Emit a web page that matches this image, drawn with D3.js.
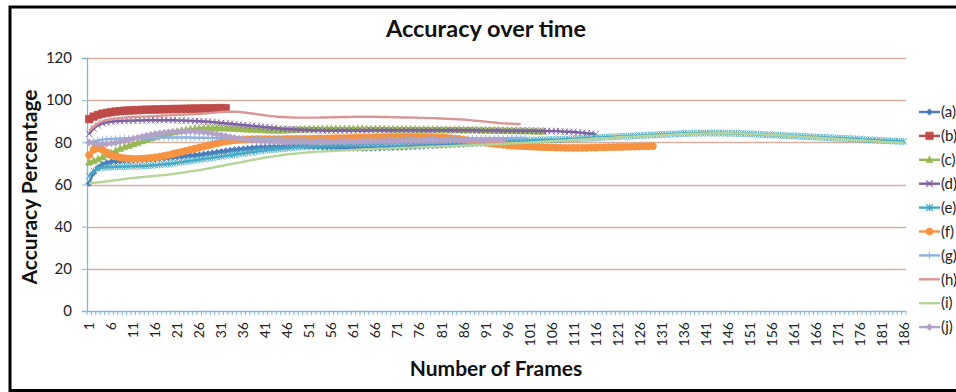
<!DOCTYPE html>
<html>
<head>
<meta charset="utf-8">
<script src="https://cdn.jsdelivr.net/npm/d3@7"></script>
<style>
  html, body { margin: 0; padding: 0; background: #fff; }
  svg { display: block; font-family: Lato, "Open Sans", sans-serif; }
</style>
</head>
<body>
<svg id="chart" width="956" height="392"></svg>
<script>
// Frame numbers on the category axis
const categories = d3.range(1, 187);
const xTickLabels = d3.range(1, 187, 5);
const yTicks = [0, 20, 40, 60, 80, 100, 120];

const seriesNames = ["(a)", "(b)", "(c)", "(d)", "(e)", "(f)", "(g)", "(h)", "(i)", "(j)"];

// Accuracy (%) per frame for each run
const seriesA = [60.5,65.5,68,69.5,70.3,70.8,71,71.2,71.3,71.4,
  71.5,71.6,71.7,71.8,72,72.1,72.3,72.5,72.7,72.9,
  73.1,73.3,73.5,73.7,73.9,74.1,74.4,74.7,75,75.3,
  75.6,75.9,76.2,76.5,76.7,76.9,77.1,77.3,77.5,77.6,
  77.7,77.8,77.9,78,78.1,78.2,78.3,78.3,78.3,78.2,
  78.1,78,77.9,77.8,77.7,77.6,77.5,77.4,77.3,77.3,
  77.2,77.2,77.2,77.2,77.2,77.3,77.3,77.4,77.5,77.5,
  77.6,77.7,77.8,77.9,78,78.1,78.2,78.3,78.4,78.5,
  78.6,78.7,78.8,78.9,79,79.1,79.2,79.3,79.4,79.5,
  79.6,79.7,79.8,79.9,80,80,80.1,80.1,80.2,80.2];

const seriesB = [91,92.2,93,93.6,94,94.3,94.6,94.8,95,95.1,
  95.2,95.3,95.4,95.5,95.5,95.6,95.6,95.7,95.7,95.8,
  95.8,95.9,95.9,96,96,96,96.1,96.1,96.1,96.2,96.2,96.2];

const seriesC = [70.5,71.2,72,73,74,75,76,77,77.8,78.5,
  79.2,79.9,80.6,81.3,82,82.6,83.2,83.8,84.3,84.8,
  85.2,85.6,85.9,86.2,86.4,86.6,86.7,86.8,86.8,86.8,
  86.8,86.7,86.6,86.5,86.4,86.3,86.2,86.1,86,85.9,
  85.8,85.7,85.7,85.7,85.7,85.8,85.9,86,86.1,86.2,
  86.3,86.3,86.4,86.4,86.4,86.4,86.4,86.4,86.4,86.4,
  86.4,86.4,86.3,86.3,86.3,86.3,86.3,86.3,86.2,86.2,
  86.2,86.2,86.2,86.2,86.2,86.1,86.1,86.1,86.1,86.1,
  86,86,86,86,86,85.9,85.9,85.9,85.9,85.8,
  85.8,85.8,85.7,85.7,85.6,85.6,85.5,85.5,85.4,85.4,
  85.3,85.3,85.2,85.2];

const seriesD = [84,86.5,88,89,89.5,89.8,90,90.1,90.2,90.3,
  90.3,90.4,90.4,90.5,90.5,90.5,90.5,90.5,90.5,90.5,
  90.4,90.4,90.3,90.2,90.1,90,89.9,89.8,89.6,89.4,
  89.2,89,88.8,88.6,88.4,88.2,88,87.8,87.6,87.4,
  87.2,87,86.8,86.6,86.4,86.3,86.2,86.1,86,85.9,
  85.8,85.7,85.7,85.6,85.6,85.6,85.6,85.6,85.6,85.6,
  85.6,85.6,85.6,85.6,85.7,85.7,85.7,85.7,85.7,85.7,
  85.7,85.7,85.7,85.7,85.7,85.7,85.7,85.7,85.7,85.7,
  85.7,85.7,85.7,85.7,85.7,85.7,85.7,85.7,85.6,85.6,
  85.6,85.6,85.6,85.6,85.5,85.5,85.5,85.5,85.5,85.5,
  85.5,85.5,85.4,85.4,85.4,85.3,85.3,85.2,85.1,85,
  84.9,84.7,84.5,84.3,84.1,83.9];

const seriesE = [64,66.5,67.5,68,68.2,68.3,68.4,68.5,68.5,68.6,
  68.6,68.7,68.8,68.9,69,69.2,69.4,69.6,69.8,70,
  70.3,70.6,70.9,71.2,71.5,71.8,72.1,72.4,72.7,73,
  73.3,73.6,73.9,74.2,74.5,74.8,75.1,75.4,75.7,76,
  76.2,76.4,76.6,76.8,77,77.2,77.4,77.6,77.8,78,
  78.1,78.2,78.3,78.4,78.5,78.6,78.7,78.8,78.9,79,
  79,79.1,79.1,79.2,79.2,79.3,79.3,79.4,79.4,79.5,
  79.5,79.6,79.6,79.7,79.7,79.8,79.8,79.9,79.9,80,
  80,80.1,80.1,80.2,80.2,80.3,80.3,80.4,80.4,80.5,
  80.5,80.6,80.6,80.7,80.7,80.8,80.8,80.9,80.9,81,
  81,81.1,81.1,81.2,81.2,81.3,81.3,81.4,81.5,81.6,
  81.7,81.8,81.9,82,82.1,82.2,82.3,82.4,82.5,82.6,
  82.7,82.8,82.9,83,83.1,83.2,83.3,83.4,83.5,83.6,
  83.7,83.8,83.9,84,84.1,84.2,84.2,84.3,84.3,84.4,
  84.4,84.4,84.4,84.4,84.4,84.3,84.3,84.2,84.2,84.1,
  84,83.9,83.8,83.7,83.6,83.5,83.4,83.3,83.2,83.1,
  83,82.9,82.8,82.7,82.6,82.5,82.4,82.3,82.2,82.1,
  82,81.9,81.8,81.7,81.6,81.5,81.3,81.2,81.1,81,
  80.9,80.8,80.7,80.6,80.5,80.4];

const seriesF = [74,76.5,77.2,76.5,75.2,74,73.3,72.8,72.5,72.3,
  72.2,72.2,72.3,72.4,72.6,72.9,73.2,73.6,74,74.5,
  75,75.5,76,76.5,77,77.5,78,78.5,79,79.5,
  80,80.4,80.7,81,81.2,81.3,81.4,81.5,81.5,81.5,
  81.5,81.5,81.5,81.5,81.5,81.6,81.6,81.6,81.7,81.7,
  81.7,81.8,81.8,81.8,81.9,81.9,82,82,82,82.1,
  82.1,82.2,82.2,82.3,82.3,82.4,82.4,82.5,82.5,82.5,
  82.6,82.6,82.6,82.6,82.6,82.6,82.6,82.5,82.5,82.4,
  82.3,82.2,82,81.8,81.6,81.3,81,80.7,80.4,80.1,
  79.8,79.5,79.2,79,78.8,78.6,78.4,78.3,78.2,78.1,
  78,77.9,77.8,77.7,77.6,77.6,77.5,77.5,77.4,77.4,
  77.4,77.4,77.4,77.4,77.5,77.5,77.6,77.6,77.7,77.7,
  77.8,77.8,77.9,77.9,78,78,78.1,78.1,78.2];

const seriesG = [79.5,80.5,81,81.3,81.5,81.6,81.7,81.8,81.9,82,
  82,82.1,82.1,82.2,82.2,82.2,82.3,82.3,82.3,82.3,
  82.3,82.3,82.3,82.3,82.2,82.2,82.2,82.1,82.1,82,
  82,81.9,81.9,81.8,81.8,81.7,81.7,81.6,81.6,81.5,
  81.5,81.4,81.4,81.3,81.3,81.2,81.2,81.2,81.1,81.1,
  81.1,81.1,81,81,81,81,81,81,81,81,
  81,81,81,81,81.1,81.1,81.1,81.1,81.2,81.2,
  81.2,81.3,81.3,81.3,81.4,81.4,81.4,81.5,81.5,81.5,
  81.6,81.6,81.6,81.7,81.7,81.7,81.8,81.8,81.8,81.9,
  81.9,81.9,82,82,82,82,82.1,82.1,82.1,82.1];

const seriesH = [85.5,87.5,89,90,90.6,91,91.3,91.5,91.7,91.9,
  92,92.1,92.2,92.3,92.4,92.5,92.6,92.7,92.8,92.9,
  93,93.1,93.2,93.3,93.4,93.5,93.6,93.8,94,94.2,
  94.4,94.5,94.5,94.5,94.4,94.2,94,93.7,93.4,93.1,
  92.8,92.5,92.3,92.1,92,91.9,91.8,91.7,91.7,91.7,
  91.7,91.7,91.7,91.8,91.8,91.9,91.9,92,92,92,
  92.1,92.1,92.1,92.1,92.1,92.1,92,92,92,91.9,
  91.9,91.8,91.8,91.7,91.7,91.6,91.6,91.5,91.5,91.4,
  91.3,91.2,91.1,91,90.9,90.8,90.6,90.4,90.2,90,
  89.8,89.6,89.4,89.2,89,88.9,88.8,88.7,88.6];

const seriesI = [60.5,60.8,61,61.2,61.5,61.8,62,62.3,62.6,62.9,
  63.1,63.3,63.5,63.7,63.9,64.1,64.3,64.5,64.7,65,
  65.3,65.6,65.9,66.2,66.5,66.8,67.2,67.6,68,68.4,
  68.8,69.2,69.6,70,70.4,70.8,71.2,71.6,72,72.4,
  72.8,73.1,73.4,73.7,74,74.3,74.5,74.7,74.9,75.1,
  75.3,75.5,75.6,75.7,75.8,75.9,76,76.1,76.2,76.3,
  76.4,76.5,76.6,76.7,76.8,76.9,77,77,77.1,77.2,
  77.3,77.4,77.5,77.5,77.6,77.7,77.8,77.9,77.9,78,
  78.1,78.2,78.2,78.3,78.4,78.5,78.5,78.6,78.7,78.8,
  78.9,79,79.1,79.2,79.3,79.4,79.5,79.6,79.7,79.8,
  79.9,80,80.1,80.3,80.4,80.5,80.7,80.8,80.9,81,
  81.2,81.3,81.4,81.5,81.7,81.8,81.9,82,82.1,82.2,
  82.4,82.5,82.6,82.7,82.8,82.9,83,83.1,83.2,83.3,
  83.4,83.5,83.6,83.7,83.8,83.9,84,84.1,84.1,84.2,
  84.2,84.3,84.3,84.3,84.3,84.3,84.3,84.2,84.2,84.1,
  84,83.9,83.8,83.7,83.6,83.5,83.4,83.3,83.2,83,
  82.9,82.8,82.6,82.5,82.4,82.3,82.1,82,81.9,81.8,
  81.6,81.5,81.4,81.2,81.1,81,80.9,80.7,80.6,80.5,
  80.3,80.2,80.1,80,79.9,79.8];

const seriesJ = [80,79.5,79.2,79.2,79.3,79.5,79.8,80.2,80.7,81.2,
  81.7,82.2,82.7,83.2,83.6,84,84.3,84.6,84.8,85,
  85.1,85.2,85.2,85.2,85.1,85,84.8,84.5,84.2,83.8,
  83.4,83,82.6,82.2,81.8,81.5,81.2,81,80.8,80.6,
  80.5,80.4,80.3,80.2,80.2,80.1,80.1,80.1,80.1,80.1,
  80.1,80.1,80.1,80.1,80.1,80.2,80.2,80.2,80.2,80.3,
  80.3,80.3,80.3,80.4,80.4,80.4,80.4,80.5,80.5,80.5,
  80.5,80.6,80.6,80.6,80.6,80.7,80.7,80.7,80.7,80.8,
  80.8,80.8,80.8,80.9,80.9,80.9,80.9,81,81,81,
  81,81.1,81.1,81.1,81.1];

const seriesValues = [seriesA, seriesB, seriesC, seriesD, seriesE, seriesF, seriesG, seriesH, seriesI, seriesJ];
const seriesColors = ["#4a7ebb", "#be4b48", "#98b954", "#7d60a0", "#46aac5", "#f69240", "#8db3e2", "#d99694", "#b5d49a", "#b3a2c7"];
const seriesMarkers = ["diamond", "square", "triangle", "times", "star", "circle", "plus", "none", "none", "diamond"];

const W = 956, H = 392;
const plot = { left: 87, right: 906, top: 58, bottom: 311 };

const svg = d3.select("#chart");
svg.append("rect").attr("width", W).attr("height", H).attr("fill", "#fff");

const x = d3.scaleBand().domain(categories).range([plot.left, plot.right]).padding(0);
const y = d3.scaleLinear().domain([0, 120]).range([plot.bottom, plot.top]);
const cx = c => x(c) + x.bandwidth() / 2;

// Horizontal gridlines
svg.append("g").selectAll("line")
  .data(yTicks.filter(v => v > 0))
  .join("line")
  .attr("x1", plot.left).attr("x2", plot.right)
  .attr("y1", d => Math.round(y(d)) + 0.5).attr("y2", d => Math.round(y(d)) + 0.5)
  .attr("stroke", "#d8b0a2").attr("stroke-width", 1.3);

// Y axis
const yAxis = svg.append("g")
  .attr("transform", `translate(${plot.left},0)`)
  .call(d3.axisLeft(y).tickValues(yTicks).tickSize(5).tickPadding(10));
yAxis.select(".domain").attr("stroke", "#86b6d2").attr("stroke-width", 1.3);
yAxis.selectAll(".tick line").attr("stroke", "#86b6d2");
yAxis.selectAll("text").attr("font-size", 15).attr("fill", "#222").attr("font-family", "Lato, sans-serif");

// X axis: line, a tick at every category boundary, labels every fifth frame
const xAxis = svg.append("g")
  .attr("transform", `translate(0,${plot.bottom})`)
  .call(d3.axisBottom(x).tickValues(xTickLabels).tickSize(0));
xAxis.select(".domain").remove();
xAxis.selectAll("text")
  .attr("font-size", 14).attr("fill", "#222").attr("font-family", "Lato, sans-serif")
  .attr("transform", "rotate(-90)")
  .attr("x", -11).attr("y", 0).attr("dy", "0.36em")
  .style("text-anchor", "end");

svg.append("line")
  .attr("x1", plot.left).attr("x2", plot.right)
  .attr("y1", plot.bottom + 0.5).attr("y2", plot.bottom + 0.5)
  .attr("stroke", "#86b6d2").attr("stroke-width", 1.3);
svg.append("g").selectAll("line")
  .data(categories.concat([null]))
  .join("line")
  .attr("x1", d => d === null ? plot.right : x(d))
  .attr("x2", d => d === null ? plot.right : x(d))
  .attr("y1", plot.bottom).attr("y2", plot.bottom + 4)
  .attr("stroke", "#86b6d2").attr("stroke-width", 1);

// Marker shapes
function markerPath(type, s) {
  switch (type) {
    case "diamond": return `M0,${-s}L${s},0L0,${s}L${-s},0Z`;
    case "square": return `M${-s},${-s}H${s}V${s}H${-s}Z`;
    case "triangle": return `M0,${-s * 1.1}L${s},${s * 0.8}L${-s},${s * 0.8}Z`;
    case "circle": return d3.symbol(d3.symbolCircle, Math.PI * s * s)();
    case "times": return `M${-s},${-s}L${s},${s}M${-s},${s}L${s},${-s}`;
    case "plus": return `M${-s},0H${s}M0,${-s}V${s}`;
    case "star": return `M${-s},${-s}L${s},${s}M${-s},${s}L${s},${-s}M0,${-s}V${s}`;
    default: return "";
  }
}
const markerSize = { diamond: 3.2, square: 3.8, triangle: 3.6, circle: 3.6, times: 3.2, plus: 3.4, star: 3.4 };
const strokeOnly = new Set(["times", "plus", "star"]);

const line = d3.line().x(d => cx(d.cat)).y(d => y(d.v)).curve(d3.curveMonotoneX);

seriesValues.forEach((vals, i) => {
  const pts = vals.map((v, k) => ({ cat: categories[k], v }));
  const g = svg.append("g");
  const color = seriesColors[i];
  const m = seriesMarkers[i];
  g.append("path").datum(pts)
    .attr("d", line)
    .attr("fill", "none").attr("stroke", color)
    .attr("stroke-width", 2.4).attr("stroke-linejoin", "round");
  if (m !== "none") {
    const s = i === 9 ? 3.4 : markerSize[m];
    g.selectAll("path.mk").data(pts).join("path")
      .attr("class", "mk")
      .attr("transform", d => `translate(${cx(d.cat)},${y(d.v)})`)
      .attr("d", markerPath(m, s))
      .attr("fill", strokeOnly.has(m) ? "none" : color)
      .attr("stroke", color)
      .attr("stroke-width", strokeOnly.has(m) ? 1 : 0.6)
      .attr("opacity", strokeOnly.has(m) ? 0.9 : 1);
  }
});

// Legend
const legend = svg.append("g");
seriesNames.forEach((name, i) => {
  const ly = 112 + i * 23.9;
  const color = seriesColors[i];
  const m = seriesMarkers[i];
  legend.append("line")
    .attr("x1", 919).attr("x2", 940).attr("y1", ly).attr("y2", ly)
    .attr("stroke", color).attr("stroke-width", 2.4);
  if (m !== "none") {
    const s = i === 9 ? 3.4 : markerSize[m];
    legend.append("path")
      .attr("transform", `translate(929.5,${ly})`)
      .attr("d", markerPath(m, s))
      .attr("fill", strokeOnly.has(m) ? "none" : color)
      .attr("stroke", color)
      .attr("stroke-width", strokeOnly.has(m) ? 1.2 : 0.6);
  }
  legend.append("text")
    .attr("x", 941).attr("y", ly).attr("dy", "0.35em")
    .attr("font-size", 15).attr("fill", "#222")
    .text(name);
});

// Titles
svg.append("text")
  .attr("x", 486).attr("y", 37)
  .attr("text-anchor", "middle")
  .attr("font-size", 23.5).attr("font-weight", "bold").attr("fill", "#111")
  .text("Accuracy over time");

svg.append("text")
  .attr("transform", `translate(37,187) rotate(-90)`)
  .attr("text-anchor", "middle")
  .attr("font-size", 21).attr("font-weight", "bold").attr("fill", "#111")
  .text("Accuracy Percentage");

svg.append("text")
  .attr("x", 496).attr("y", 376)
  .attr("text-anchor", "middle")
  .attr("font-size", 21).attr("font-weight", "bold").attr("fill", "#111")
  .text("Number of Frames");

// Outer frame
svg.append("rect")
  .attr("x", 10).attr("y", 7).attr("width", 960).attr("height", 383.5)
  .attr("fill", "none").attr("stroke", "#000").attr("stroke-width", 3);
</script>
</body>
</html>
